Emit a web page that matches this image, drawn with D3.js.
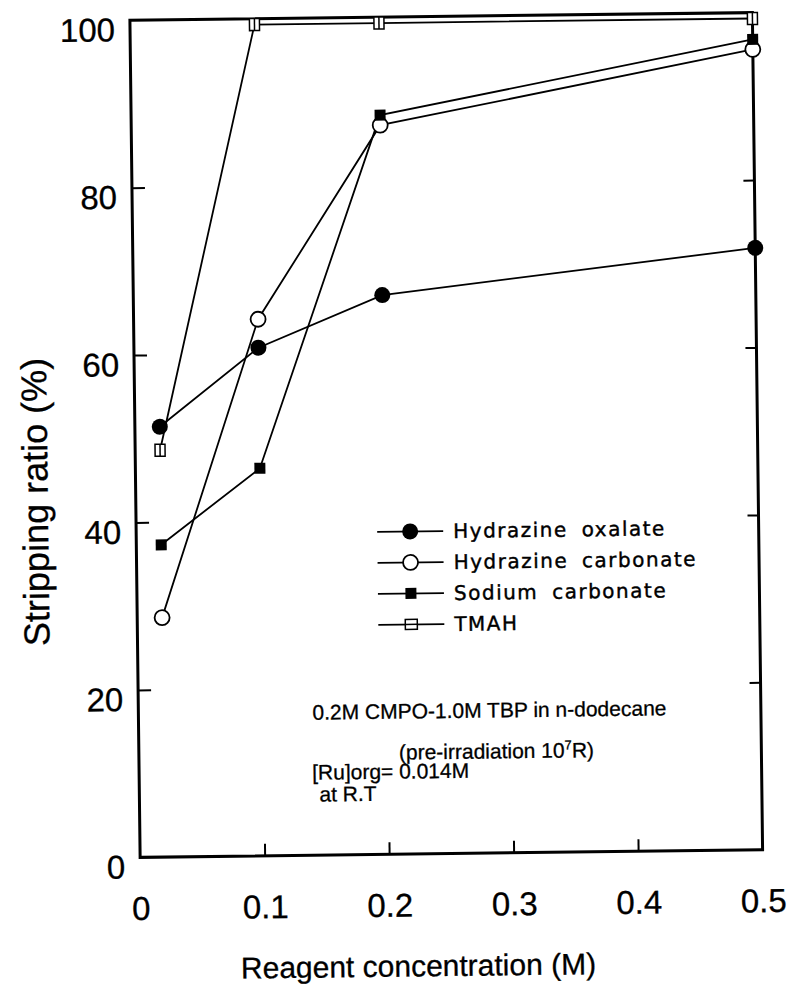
<!DOCTYPE html>
<head>
<meta charset="utf-8">
<style>
body, html {
  margin: 0;
  background: #fff;
  font-family: "Liberation Sans", Arial, sans-serif;
}
.series {
  fill: none;
  stroke: #000;
  stroke-width: 1.8;
}
.frame {
  fill: none;
  stroke: #000;
  stroke-width: 3;
}
.tick line {
  stroke: #000;
  stroke-width: 2;
}
.tick text, .title {
  stroke: #000;
  stroke-width: 0.3;
}
.legend text {
  font-family: "DejaVu Sans", sans-serif;
  font-size: 20px;
  letter-spacing: 1.5px;
  word-spacing: 6px;
  stroke: #000;
  stroke-width: 0.4;
}
.note {
  font-size: 21px;
  stroke: #000;
  stroke-width: 0.3;
}
</style>
<script src="https://d3js.org/d3.v7.min.js"></script>
</head>

<body>
<script>

//==========================================
var concentration = [0.02, 0.1, 0.2, 0.5];

var hydrazineOxalate   = [51.4, 60.7, 66.8, 71.9];
var hydrazineCarbonate = [28.6, 64.1, 87.1, 95.6];
var sodiumCarbonate    = [37.3, 46.3, 88.3, 96.8];
var tmah               = [48.6, 99.3, 99.3, 99.3];

var seriesNames = ["Hydrazine oxalate", "Hydrazine carbonate", "Sodium carbonate", "TMAH"];
var seriesValues = [hydrazineOxalate, hydrazineCarbonate, sodiumCarbonate, tmah];
var seriesMarks = ["dot", "ring", "square", "bar"];

var xTicks = [0, 0.1, 0.2, 0.3, 0.4, 0.5];
var xInnerTicks = [0.1, 0.2, 0.3, 0.4];
var yTicks = [0, 20, 40, 60, 80, 100];
var yInnerTicks = [20, 40, 60, 80];

var noteLines = [
  "0.2M CMPO-1.0M TBP in n-dodecane",
  "(pre-irradiation 10",
  "[Ru]org= 0.014M",
  "at R.T"
];

//==========================================
var width = 795,
    height = 999,
    plotLeft = 135, plotRight = 757.5,
    plotTop = 16.4, plotBottom = 853.6;

var x = d3.scaleLinear().domain([0, 0.5]).range([plotLeft, plotRight]);
var y = d3.scaleLinear().domain([0, 100]).range([plotBottom, plotTop]);

var svg = d3.select("body").append("svg")
    .attr("width", width)
    .attr("height", height);

// the scanned page is slightly turned
var g = svg.append("g").attr("transform", "rotate(-0.7, 446, 435)");

//--------------------------------------
function drawMark(sel, kind) {
  if (kind == "dot") {
    sel.append("circle").attr("r", 8).attr("fill", "#000");
  } else if (kind == "ring") {
    sel.append("circle").attr("r", 7.5).attr("fill", "#fff")
      .attr("stroke", "#000").attr("stroke-width", 1.8);
  } else if (kind == "square") {
    sel.append("rect").attr("x", -5.5).attr("y", -5.5)
      .attr("width", 11).attr("height", 11).attr("fill", "#000");
  } else {
    sel.append("rect").attr("x", -5).attr("y", -6)
      .attr("width", 10).attr("height", 12).attr("fill", "#fff")
      .attr("stroke", "#000").attr("stroke-width", 1.5);
    sel.append("line").attr("x1", 0).attr("x2", 0).attr("y1", -6).attr("y2", 6)
      .attr("stroke", "#000").attr("stroke-width", 1.5);
  }
}

//--------------------------------------
// tick labels
g.append("g")
    .attr("transform", "translate(0," + plotBottom + ")")
    .call(d3.axisBottom(x).tickValues(xTicks).tickSize(0).tickPadding(39)
      .tickFormat(function(d) { return d == 0 ? "0" : d3.format(".1f")(d); }))
    .call(function(a) { a.select(".domain").remove(); })
    .selectAll("text")
    .attr("font-size", 33).attr("font-family", "Liberation Sans").attr("fill", "#000");

g.append("g")
    .attr("transform", "translate(" + plotLeft + ",0)")
    .call(d3.axisLeft(y).tickValues(yTicks).tickSize(0).tickPadding(15))
    .call(function(a) { a.select(".domain").remove(); })
    .selectAll("text")
    .attr("dy", "0.62em")
    .attr("font-size", 33).attr("font-family", "Liberation Sans").attr("fill", "#000");

// inner ticks
g.append("g")
    .attr("transform", "translate(0," + plotBottom + ")")
    .call(d3.axisBottom(x).tickValues(xInnerTicks).tickSize(-12).tickFormat(""))
    .call(function(a) { a.select(".domain").remove(); });

g.append("g")
    .attr("transform", "translate(" + plotLeft + ",0)")
    .call(d3.axisLeft(y).tickValues(yInnerTicks).tickSize(-13).tickFormat(""))
    .call(function(a) { a.select(".domain").remove(); });

g.append("g")
    .attr("transform", "translate(" + plotRight + ",0)")
    .call(d3.axisRight(y).tickValues(yInnerTicks).tickSize(-11).tickFormat(""))
    .call(function(a) { a.select(".domain").remove(); });

g.append("rect")
    .attr("class", "frame")
    .attr("x", plotLeft).attr("y", plotTop)
    .attr("width", plotRight - plotLeft).attr("height", plotBottom - plotTop);

// axis titles
g.append("text")
    .attr("class", "title")
    .attr("x", 412).attr("y", 976)
    .attr("text-anchor", "middle")
    .attr("font-size", 30)
    .text("Reagent concentration (M)");

g.append("text")
    .attr("class", "title")
    .attr("transform", "translate(47,497) rotate(-90)")
    .attr("text-anchor", "middle")
    .attr("font-size", 36)
    .text("Stripping ratio (%)");

//--------------------------------------
// series
var line = d3.line()
    .x(function(d, i) { return x(concentration[i]); })
    .y(function(d) { return y(d); });

seriesValues.forEach(function(vals) {
  g.append("path")
    .datum(vals)
    .attr("class", "series")
    .attr("d", line);
});

seriesValues.forEach(function(vals, k) {
  g.append("g").selectAll("g")
    .data(vals)
    .enter().append("g")
    .attr("transform", function(d, i) { return "translate(" + x(concentration[i]) + "," + y(d) + ")"; })
    .each(function() { drawMark(d3.select(this), seriesMarks[k]); });
});

//--------------------------------------
// legend
var legend = g.append("g").attr("class", "legend")
    .attr("transform", "translate(376,531)");

var row = legend.selectAll("g")
    .data(seriesNames)
    .enter().append("g")
    .attr("transform", function(d, i) { return "translate(0," + (i * 31) + ")"; });

row.append("line")
    .attr("x1", 0).attr("x2", 66)
    .attr("stroke", "#000").attr("stroke-width", 1.8);

row.append("g")
    .attr("transform", "translate(33,0)")
    .each(function(d, i) {
      var m = d3.select(this);
      if (seriesMarks[i] == "bar") m.attr("transform", "translate(33,0) rotate(90)");
      drawMark(m, seriesMarks[i]);
    });

row.append("text")
    .attr("x", 76).attr("y", 7)
    .text(function(d) { return d; });

//--------------------------------------
// conditions
var note = g.append("g").attr("class", "note");

note.append("text").attr("x", 309).attr("y", 718).text(noteLines[0]);

var pre = note.append("text").attr("x", 395).attr("y", 759);
pre.append("tspan").text(noteLines[1]);
pre.append("tspan").attr("dy", -8).attr("font-size", 13).text("7");
pre.append("tspan").attr("dy", 8).text("R)");

note.append("text").attr("x", 308).attr("y", 778).text(noteLines[2]);
note.append("text").attr("x", 315).attr("y", 800).text(noteLines[3]);

</script>
